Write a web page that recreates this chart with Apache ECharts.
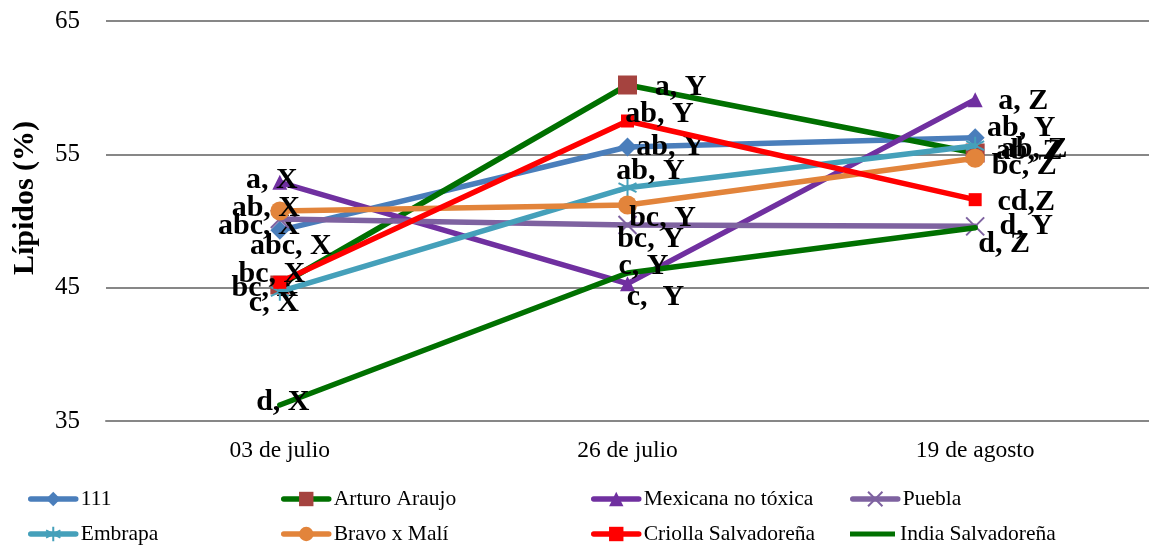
<!DOCTYPE html>
<html>
<head>
<meta charset="utf-8">
<script src="https://cdn.jsdelivr.net/npm/echarts@6/dist/echarts.min.js"></script>
<style>
  html, body { margin: 0; padding: 0; background: #fff; }
  #chart { width: 1149px; height: 546px; }
</style>
</head>
<body>
<div id="chart"></div>
<script>
// Sampling dates
const categories = ['03 de julio', '26 de julio', '19 de agosto'];

// Lipid content (%) per variety
const seriesNames = ['111', 'Arturo Araujo', 'Mexicana no tóxica', 'Puebla',
                     'Embrapa', 'Bravo x Malí', 'Criolla Salvadoreña', 'India Salvadoreña'];
const v111        = [49.3, 55.55, 56.25];
const vArturo     = [45.2, 60.2, 55.1];
const vMexicana   = [52.9, 45.3, 59.1];
const vPuebla     = [50.15, 49.7, 49.6];
const vEmbrapa    = [44.7, 52.5, 55.65];
const vBravo      = [50.75, 51.2, 54.7];
const vCriolla    = [45.4, 57.5, 51.6];
const vIndia      = [36.2, 46.1, 49.5];

// Significance letters per point
const l111      = ['abc, X', 'ab, Y', 'ab, Y'];
const lArturo   = ['bc, X', 'a, Y', 'ab, Z'];
const lMexicana = ['a, X', 'c,  Y', 'a, Z'];
const lPuebla   = ['abc, X', 'bc, Y', 'd, Y'];
const lEmbrapa  = ['c, X', 'ab, Y', 'ab, Z'];
const lBravo    = ['ab, X', 'bc, Y', 'bc, Z'];
const lCriolla  = ['bc, X', 'ab, Y', 'cd,Z'];
const lIndia    = ['d, X', 'c, Y', 'd, Z'];

// Y axis ticks
const yMin = 35, yMax = 65, yStep = 10;

const serif = '"Liberation Serif", "Times New Roman", serif';

// Label placement relative to each point (layout only)
const labelShift = {
  '111':                 [[-21, -4], [43, 0], [46, -9]],
  'Arturo Araujo':       [[-15, 3], [53, 2], [59, -4]],
  'Mexicana no tóxica':  [[-8, -2], [28, 14], [48, 2]],
  'Puebla':              [[11, 27], [23, 14], [51, 0]],
  'Embrapa':             [[-6, 12], [23, -16], [54, 6]],
  'Bravo x Malí':        [[-14, -3], [35, 13], [49, 8]],
  'Criolla Salvadoreña': [[-8, -8], [32, -7], [51, 3]],
  'India Salvadoreña':   [[3, -3], [16, -7], [29, 17]]
};

const styles = {
  '111':                 { line: '#4A7EBB', mark: '#4A7EBB', symbol: 'diamond', size: 19 },
  'Arturo Araujo':       { line: '#007000', mark: '#A5433F', symbol: 'rect', size: 19 },
  'Mexicana no tóxica':  { line: '#7030A0', mark: '#7030A0', symbol: 'triangle', size: 15 },
  'Puebla':              { line: '#7E62A0', mark: '#7E62A0', symbol: 'path://M0,0L10,10M10,0L0,10', size: 18 },
  'Embrapa':             { line: '#45A0BA', mark: '#45A0BA', symbol: 'path://M5,0L5,10M0,2.5L10,7.5M0,7.5L10,2.5', size: 18 },
  'Bravo x Malí':        { line: '#E2843B', mark: '#E2843B', symbol: 'circle', size: 19 },
  'Criolla Salvadoreña': { line: '#FF0000', mark: '#FF0000', symbol: 'rect', size: 13 },
  'India Salvadoreña':   { line: '#007000', mark: '#007000', symbol: 'circle', size: 1 }
};

const values = [v111, vArturo, vMexicana, vPuebla, vEmbrapa, vBravo, vCriolla, vIndia];
const labels = [l111, lArturo, lMexicana, lPuebla, lEmbrapa, lBravo, lCriolla, lIndia];

const series = seriesNames.map((name, s) => {
  const st = styles[name];
  const isCross = st.symbol.startsWith('path://');
  return {
    name: name,
    type: 'line',
    data: values[s].map((v, i) => ({
      value: v,
      label: { offset: labelShift[name][i], formatter: labels[s][i] }
    })),
    symbol: st.symbol,
    symbolSize: st.size,
    showAllSymbol: true,
    lineStyle: { color: st.line, width: 5.5, cap: 'round', join: 'round' },
    itemStyle: isCross
      ? { color: 'none', borderColor: st.mark, borderWidth: 2 }
      : { color: st.mark, borderWidth: 0 },
    emphasis: { disabled: true },
    label: {
      show: true,
      position: 'inside',
      color: '#000',
      fontFamily: serif,
      fontWeight: 'bold',
      fontSize: 30
    },
    z: 2 + s
  };
});

// Legend laid out in two rows of four
const legendSpots = [
  [28, 488], [281, 488], [591, 488], [850, 488],
  [28, 523], [281, 523], [591, 523], [850, 523]
];
const legendOrder = ['111', 'Arturo Araujo', 'Mexicana no tóxica', 'Puebla',
                     'Embrapa', 'Bravo x Malí', 'Criolla Salvadoreña', 'India Salvadoreña'];
const legends = legendOrder.map((name, i) => ({
  data: [name === 'India Salvadoreña'
    ? { name: name, icon: 'path://M0,0L50,0L50,5.5L0,5.5Z' }
    : name],
  left: legendSpots[i][0],
  top: legendSpots[i][1],
  padding: 0,
  itemWidth: 45,
  itemHeight: 18,
  itemGap: 4,
  selectedMode: false,
  lineStyle: { width: 5.5, cap: 'round' },
  textStyle: { fontFamily: serif, fontSize: 21.5, color: '#000' }
}));

const chart = echarts.init(document.getElementById('chart'), null, { renderer: 'canvas' });
chart.setOption({
  animation: false,
  backgroundColor: '#fff',
  grid: { left: 106, right: 0, top: 21, bottom: 125, containLabel: false },
  xAxis: {
    type: 'category',
    data: categories,
    boundaryGap: true,
    axisLine: { show: true, lineStyle: { color: '#878787', width: 2 } },
    axisTick: { show: false },
    axisLabel: { fontFamily: serif, fontSize: 23.5, color: '#000', margin: 18 }
  },
  yAxis: {
    type: 'value',
    min: yMin, max: yMax, interval: yStep,
    axisLine: { show: false },
    axisTick: { show: false },
    splitLine: { lineStyle: { color: '#878787', width: 2 } },
    axisLabel: { fontFamily: serif, fontSize: 25, color: '#000', margin: 26 }
  },
  legend: legends,
  graphic: [{
    type: 'text',
    x: 25, y: 198,
    rotation: Math.PI / 2,
    style: {
      text: 'Lípidos (%)',
      font: 'bold 30px ' + serif,
      fill: '#000',
      align: 'center',
      verticalAlign: 'middle'
    }
  }],
  series: series
});
</script>
</body>
</html>
